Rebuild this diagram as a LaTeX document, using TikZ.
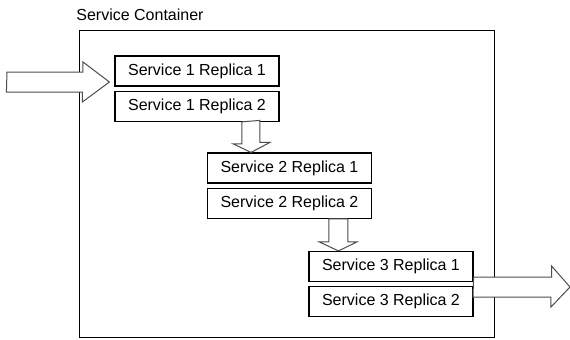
\documentclass[tikz,border=0pt]{standalone}
\usepackage{fontspec}
\setmainfont{Liberation Sans}
\usetikzlibrary{calc, positioning}

\begin{document}
\begin{tikzpicture}[x=0.5pt, y=-0.5pt,
 replica/.style={draw, line width=0.6pt, fill=white, inner sep=0pt,
  minimum width=82pt, minimum height=15pt, font=\fontsize{8}{9.6}\selectfont},
 blockarrow/.style={draw=black!70, line width=0.5pt, fill=white}]
 \useasboundingbox (0,0) rectangle (570,339);
 % container and title
 \node[anchor=west, inner sep=0pt, font=\fontsize{8}{9.6}\selectfont] (title) at (76,15) {Service Container};
 \node[draw, line width=0.6pt, anchor=north west, inner sep=0pt,
  minimum width=207.5pt, minimum height=153.5pt] (container) at (79,30) {};
 \coordinate (in) at (7,82);
 \coordinate (out) at (570,287);
 % replicas
 \node[replica] (s1r1) at (197,71) {Service 1 Replica 1};
 \node[replica, below=2pt of s1r1] (s1r2) {Service 1 Replica 2};
 \node[replica] (s2r1) at (289.5,168) {Service 2 Replica 1};
 \node[replica, below=2pt of s2r1] (s2r2) {Service 2 Replica 2};
 \node[replica] (s3r1) at (391,266.5) {Service 3 Replica 1};
 \node[replica, below=2pt of s3r1] (s3r2) {Service 3 Replica 2};
 % block arrows
 \draw[blockarrow] (in) ++(0,-10) -- ++(76,0) -- ++(0,-10)
  -- ($(s1r1.west)+(-5,11)$) -- ++(-27,20) -- ++(0,-10) -- ++(-76,0) -- cycle;
 \draw[blockarrow] ($(s1r2.south)+(45,0)$) -- ++(0,22) -- ++(-9,0)
  -- ($(s2r1.north)+(-38.5,0)$) -- ++(19,-10) -- ++(-10,0) -- ++(0,-22) -- cycle;
 \draw[blockarrow] ($(s2r2.south)+(39.5,0)$) -- ++(0,23) -- ++(-10,0)
  -- ($(s3r1.north)+(-52.5,0)$) -- ++(18.5,-9) -- ++(-9,0) -- ++(0,-23) -- cycle;
 \draw[blockarrow] ($(s3r1.east)+(0,10.5)$) -- ++(78,0) -- ++(0,-11)
  -- (out) -- ++(-19,20) -- ++(0,-10) -- ++(-78,0) -- cycle;
\end{tikzpicture}
\end{document}
